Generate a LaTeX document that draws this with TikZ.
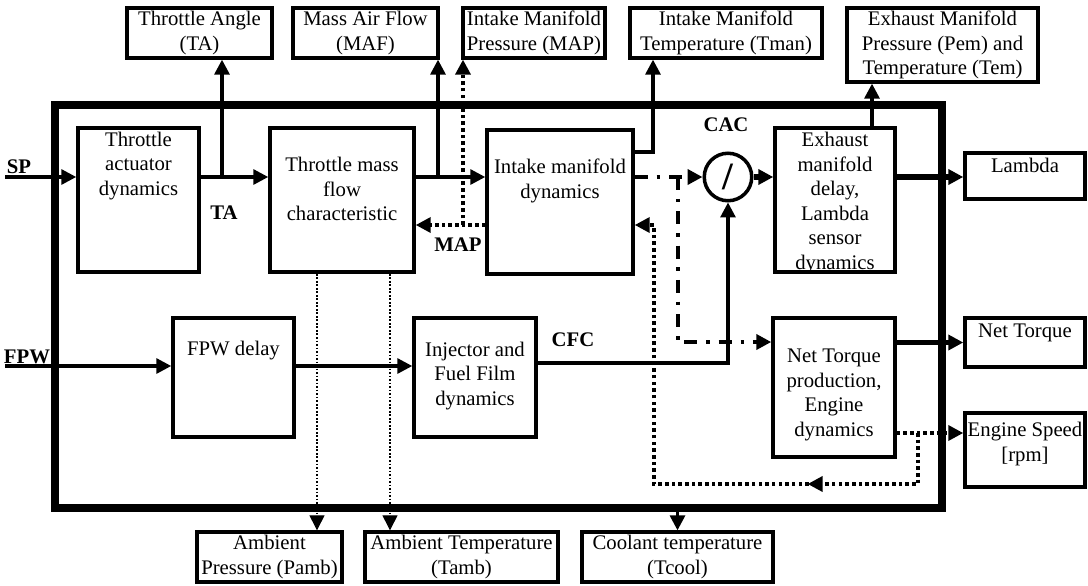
\documentclass[tikz,border=0pt]{standalone}
\usepackage{fontspec}
\setmainfont{Liberation Serif}
\usetikzlibrary{arrows.meta,decorations.markings}

\begin{document}
\begin{tikzpicture}[
    x=0.02cm, y=-0.02cm,
    >={Triangle[length=8.5pt,width=8.5pt]},
    block/.style={draw, line width=2pt, inner sep=0pt},
    outbox/.style={draw, line width=1.9pt, inner sep=0pt, align=center, font=\fontsize{11.8}{14}\selectfont},
    txt/.style={align=center, inner sep=0pt, font=\fontsize{11.8}{14}\selectfont},
    lbl/.style={inner sep=0pt, font=\fontsize{11.8}{14}\selectfont\bfseries},
    bigbox/.style={draw, line width=4.2pt, inner sep=0pt},
    sig/.style={line width=1.8pt, ->},
    heavy/.style={line width=3.2pt, ->},
    dotline/.style={line width=2pt, dash pattern=on 2pt off 1.8pt, ->},
    ctrl/.style={line width=2.5pt, dash pattern=on 7.5pt off 5pt on 2pt off 5pt, ->},
    amb/.style={line width=0.6pt, dash pattern=on 1pt off 1pt, ->}
]
    \useasboundingbox (0,0) rectangle (1088,585);

    % Engine frame
    \node[bigbox, minimum width=17.74cm, minimum height=8.06cm] (frame) at (498.5,306.5) {};

    % Measured outputs (top)
    \node[outbox, minimum width=2.9cm, minimum height=1cm] (ta) at (199.5,33) {Throttle Angle\\(TA)};
    \node[outbox, minimum width=2.9cm, minimum height=1cm] (maf) at (365.5,33) {Mass Air Flow\\(MAF)};
    \node[outbox, minimum width=2.84cm, minimum height=1cm] (map) at (534,33) {Intake Manifold\\Pressure (MAP)};
    \node[outbox, minimum width=3.84cm, minimum height=1cm] (tman) at (726,33) {Intake Manifold\\Temperature (Tman)};
    \node[outbox, minimum width=3.82cm, minimum height=1.48cm] (pem) at (942.5,45) {Exhaust Manifold\\Pressure (Pem) and\\Temperature (Tem)};

    % Blocks
    \node[block, minimum width=2.42cm, minimum height=2.88cm] (act) at (138.5,200) {};
    \node[txt] (actT) at (138.5,166) {Throttle\\actuator\\dynamics};
    \node[block, minimum width=2.88cm, minimum height=2.88cm] (tmf) at (342,200) {};
    \node[txt] (tmfT) at (342,189) {Throttle mass\\flow\\characteristic};
    \node[block, minimum width=2.92cm, minimum height=2.88cm] (imd) at (560,202) {};
    \node[txt] (imdT) at (560,181) {Intake manifold\\dynamics};
    \node[block, minimum width=2.4cm, minimum height=2.88cm] (emd) at (835,200) {};
    \node[txt] (emdT) at (835,203) {Exhaust\\manifold\\delay,\\Lambda\\sensor\\dynamics};
    \node[block, minimum width=2.42cm, minimum height=2.38cm] (fpw) at (233.5,377.5) {};
    \node[txt] (fpwT) at (233.5,351) {FPW delay};
    \node[block, minimum width=2.44cm, minimum height=2.38cm] (inj) at (475,377.5) {};
    \node[txt] (injT) at (475,376) {Injector and\\Fuel Film\\dynamics};
    \node[block, minimum width=2.44cm, minimum height=2.78cm] (ntp) at (834,387.5) {};
    \node[txt] (ntpT) at (834,395) {Net Torque\\production,\\Engine\\dynamics};
    \node[draw, circle, line width=2pt, minimum size=0.95cm, inner sep=0pt,
          font=\fontsize{22}{22}\selectfont\bfseries] (cac) at (728,177) {/};

    % Outputs (right)
    \node[block, minimum width=2.4cm, minimum height=0.92cm] (lam) at (1025,176) {};
    \node[txt] (lamT) at (1025,165) {Lambda};
    \node[block, minimum width=2.4cm, minimum height=0.98cm] (ntq) at (1025,342.5) {};
    \node[txt] (ntqT) at (1025,333) {Net Torque};
    \node[block, minimum width=2.4cm, minimum height=1.48cm] (esp) at (1025,450) {};
    \node[txt] (espT) at (1025,444) {Engine Speed\\{[rpm]}};

    % Ambient outputs (bottom)
    \node[outbox, minimum width=2.9cm, minimum height=1cm] (pamb) at (269.5,557) {Ambient\\Pressure (Pamb)};
    \node[outbox, minimum width=3.86cm, minimum height=1cm] (tamb) at (461.5,557) {Ambient Temperature\\(Tamb)};
    \node[outbox, minimum width=3.82cm, minimum height=1cm] (tcool) at (677.5,557) {Coolant temperature\\(Tcool)};

    % Signal labels
    \node[lbl] (spL) at (19,167) {SP};
    \node[lbl] (fpwL) at (27,357) {FPW};
    \node[lbl] (taL) at (224,213) {TA};
    \node[lbl] (mapL) at (458,245) {MAP};
    \node[lbl] (cacL) at (726,125) {CAC};
    \node[lbl] (cfcL) at (573,340) {CFC};

    % Branch points
    \coordinate (sp) at (5,177);
    \coordinate (fpwin) at (5,366);
    \coordinate (taJ) at (222,177);
    \coordinate (mafJ) at (438,177);
    \coordinate (mapJ) at (463,225);
    \coordinate (tmanJ) at (653,152);
    \coordinate (cacJ) at (678,177);
    \coordinate (ntqJ) at (678,342);
    \coordinate (cfcJ) at (728,363);
    \coordinate (pemX) at (872,0);
    \coordinate (espJ) at (918,433);
    \coordinate (fbR) at (918,484);
    \coordinate (fbL) at (654,484);
    \coordinate (fbT) at (654,225);
    \coordinate (pambX) at (317,0);
    \coordinate (tambX) at (390,0);

    % Air path
    \draw[sig] (sp) -- (sp -| act.west);
    \draw[sig] (sp -| act.east) -- (sp -| tmf.west);
    \draw[sig] (taJ) -- (taJ |- ta.south);
    \draw[sig] (sp -| tmf.east) -- (sp -| imd.west);
    \draw[sig] (mafJ) -- (mafJ |- maf.south);
    \draw[sig] (tmanJ -| imd.east) -- (tmanJ) -- (tmanJ |- tman.south);

    % MAP
    \draw[dotline] (mapJ -| imd.west) -- (mapJ -| tmf.east);
    \draw[dotline] (mapJ) -- (mapJ |- map.south);

    % Air charge
    \draw[ctrl] (cacJ -| imd.east) -- (cac.west);
    \draw[ctrl] (cacJ) -- (ntqJ) -- (ntqJ -| ntp.west);

    % Fuel path
    \draw[sig] (fpwin) -- (fpwin -| fpw.west);
    \draw[sig] (fpwin -| fpw.east) -- (fpwin -| inj.west);
    \draw[sig] (cfcJ -| inj.east) -- (cfcJ) -- (cac.south);

    % Exhaust and torque
    \draw[heavy] (cac.east) -- (cac -| emd.west);
    \draw[heavy] (cac -| emd.east) -- (cac -| lam.west);
    \draw[sig] (pemX |- emd.north) -- (pemX |- pem.south);
    \draw[heavy] (ntq.west -| ntp.east) -- (ntq.west);

    % Engine speed and its feedback
    \draw[dotline] (espJ -| ntp.east) -- (espJ -| esp.west);
    \draw[dotline, decoration={markings, mark=at position 0.272 with {\arrow{>}}}, postaction={decorate}]
        (espJ) -- (fbR) -- (fbL) -- (fbT) -- (fbT -| imd.east);

    % Ambient conditions
    \draw[amb] (pambX |- tmf.south) -- (pambX |- pamb.north);
    \draw[amb] (tambX |- tmf.south) -- (tambX |- tamb.north);
    \draw[sig] (tcool.north |- frame.south) -- (tcool.north);
\end{tikzpicture}
\end{document}
